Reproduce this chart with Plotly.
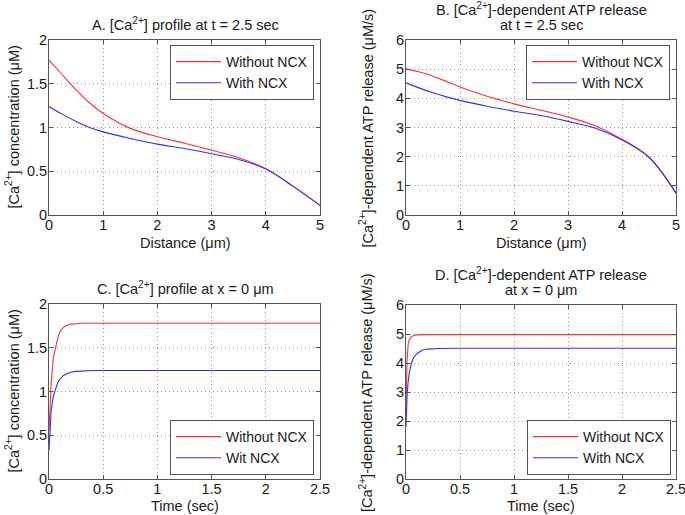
import plotly.graph_objects as go

W, H = 685, 515

# ---------------- data ----------------
dist = [0, 0.25, 0.5, 0.75, 1.0, 1.5, 2.0, 2.5, 3.0, 3.5, 4.0, 4.5, 5.0]
ca_dist_without = [1.77, 1.60, 1.43, 1.28, 1.16, 0.99, 0.895, 0.82, 0.74, 0.655, 0.53, 0.33, 0.11]
ca_dist_with = [1.24, 1.15, 1.07, 1.00, 0.95, 0.875, 0.81, 0.76, 0.70, 0.635, 0.525, 0.33, 0.11]

atp_dist_without = [5.01, 4.90, 4.76, 4.58, 4.39, 4.07, 3.81, 3.59, 3.36, 3.06, 2.60, 1.98, 0.75]
atp_dist_with = [4.53, 4.35, 4.19, 4.05, 3.93, 3.73, 3.56, 3.41, 3.21, 2.98, 2.57, 1.98, 0.75]

time_c = [0, 0.01, 0.02, 0.04, 0.06, 0.08, 0.10, 0.13, 0.16, 0.20, 0.25, 0.30, 0.40, 0.50, 1.0, 1.5, 2.0, 2.5]
ca_time_without = [0.55, 0.90, 1.10, 1.38, 1.51, 1.61, 1.68, 1.73, 1.755, 1.77, 1.775, 1.78, 1.78, 1.78, 1.78, 1.78, 1.78, 1.78]
ca_time_with = [0.33, 0.62, 0.78, 0.95, 1.04, 1.10, 1.14, 1.18, 1.20, 1.22, 1.23, 1.235, 1.24, 1.24, 1.24, 1.24, 1.24, 1.24]

time_d = [0, 0.005, 0.01, 0.02, 0.03, 0.05, 0.07, 0.10, 0.15, 0.20, 0.30, 0.50, 1.0, 1.5, 2.0, 2.5]
atp_time_without = [2.5, 3.4, 4.1, 4.65, 4.80, 4.90, 4.95, 4.97, 4.98, 4.98, 4.98, 4.98, 4.98, 4.98, 4.98, 4.98]
atp_time_with = [1.8, 2.4, 2.9, 3.35, 3.65, 4.00, 4.18, 4.32, 4.44, 4.48, 4.50, 4.51, 4.51, 4.51, 4.51, 4.51]

labels_a = ["Without NCX", "With NCX"]
labels_c = ["Without NCX", "Wit NCX"]

RED = "#ff3030"
BLUE = "#3030ff"
FONT = "Liberation Sans, Arial, Helvetica, sans-serif"
TXT = "#1a1a1a"
FS = 14.5

# ---------------- layout geometry (screen pixels) ----------------
panels = {
    "A": dict(x0=49, x1=320, y0=40, y1=215),
    "B": dict(x0=406, x1=676, y0=40, y1=215),
    "C": dict(x0=49, x1=320, y0=304, y1=479),
    "D": dict(x0=406, x1=676, y0=305, y1=479),
}

def px(x):
    return x / W

def py(y):
    return 1 - y / H

fig = go.Figure()

def add_pair(xs1, ys1, xs2, ys2, names, xa, ya, leg, shape):
    fig.add_trace(go.Scatter(x=xs1, y=ys1, mode="lines", name=names[0],
                             line=dict(color=RED, width=1.1, shape=shape),
                             xaxis=xa, yaxis=ya, legend=leg))
    fig.add_trace(go.Scatter(x=xs2, y=ys2, mode="lines", name=names[1],
                             line=dict(color=BLUE, width=1.1, shape=shape),
                             xaxis=xa, yaxis=ya, legend=leg))

add_pair(dist, ca_dist_without, dist, ca_dist_with, labels_a, "x", "y", "legend", "spline")
add_pair(dist, atp_dist_without, dist, atp_dist_with, labels_a, "x2", "y2", "legend2", "spline")
add_pair(time_c, ca_time_without, time_c, ca_time_with, labels_c, "x3", "y3", "legend3", "linear")
add_pair(time_d, atp_time_without, time_d, atp_time_with, labels_a, "x4", "y4", "legend4", "linear")

axis_common = dict(
    showline=True, linecolor="#555555", linewidth=1, mirror="ticks",
    ticks="inside", ticklen=4, tickcolor="#555555",
    showgrid=True, gridcolor="#999999", griddash="1px,3px", gridwidth=1,
    zeroline=False, tickfont=dict(family=FONT, size=FS, color=TXT),
    fixedrange=True, ticklabeloverflow="allow",
)

lay = dict(
    width=W, height=H, margin=dict(l=0, r=0, t=0, b=0, autoexpand=False),
    paper_bgcolor="white", plot_bgcolor="white",
    font=dict(family=FONT, size=FS, color=TXT),
)

ranges = {
    "A": ([0, 5], [0, 2], 1, 0.5),
    "B": ([0, 5], [0, 6], 1, 1),
    "C": ([0, 2.5], [0, 2], 0.5, 0.5),
    "D": ([0, 2.5], [0, 6], 0.5, 1),
}
names = ["A", "B", "C", "D"]
for i, k in enumerate(names):
    p = panels[k]
    xr, yr, dx, dy = ranges[k]
    sx = "" if i == 0 else str(i + 1)
    lay["xaxis" + sx] = dict(axis_common, domain=[px(p["x0"]), px(p["x1"])], range=xr,
                             dtick=dx, tick0=0, anchor="y" + sx, ticklabelstandoff=-3)
    lay["yaxis" + sx] = dict(axis_common, domain=[py(p["y1"]), py(p["y0"])], range=yr,
                             dtick=dy, tick0=0, anchor="x" + sx, ticklabelstandoff=-2)

leg_common = dict(bgcolor="white", bordercolor="#555555", borderwidth=1,
                  font=dict(family=FONT, size=14, color=TXT), xanchor="right", yanchor="top",
                  tracegroupgap=0, itemwidth=45)
lay["legend"] = dict(leg_common, x=px(314), y=py(45))
lay["legend2"] = dict(leg_common, x=px(670), y=py(45))
lay["legend3"] = dict(leg_common, x=px(314), y=py(475), yanchor="bottom")
lay["legend4"] = dict(leg_common, x=px(671), y=py(475), yanchor="bottom")

fig.update_layout(**lay)

ann = []
def text(x, y, s, angle=0):
    ann.append(dict(x=px(x), y=py(y), xref="paper", yref="paper", text=s, showarrow=False,
                    textangle=angle, xanchor="center", yanchor="middle",
                    font=dict(family=FONT, size=FS, color=TXT)))

CA = "[Ca<sup>2+</sup>]"
text(185, 24, "A. " + CA + " profile at t = 2.5 sec")
text(541, 9, "B. " + CA + "-dependent ATP release")
text(541, 25, "at t = 2.5 sec")
text(185, 288, "C. " + CA + " profile at x = 0 μm")
text(541, 274, "D. " + CA + "-dependent ATP release")
text(541, 290, "at x = 0 μm")

text(185, 243, "Distance (μm)")
text(541, 243, "Distance (μm)")
text(185, 506, "Time (sec)")
text(541, 506, "Time (sec)")

text(12, 127.5, CA + " concentration (μM)", -90)
text(366, 127.5, CA + "-dependent ATP release (μM/s)", -90)
text(12, 391.5, CA + " concentration (μM)", -90)
text(366, 392, CA + "-dependent ATP release (μM/s)", -90)

fig.update_layout(annotations=ann)
fig.write_html("out.html",
               config={"displayModeBar": False},
               post_script="document.body.style.margin='0px';document.body.style.overflow='hidden';")
